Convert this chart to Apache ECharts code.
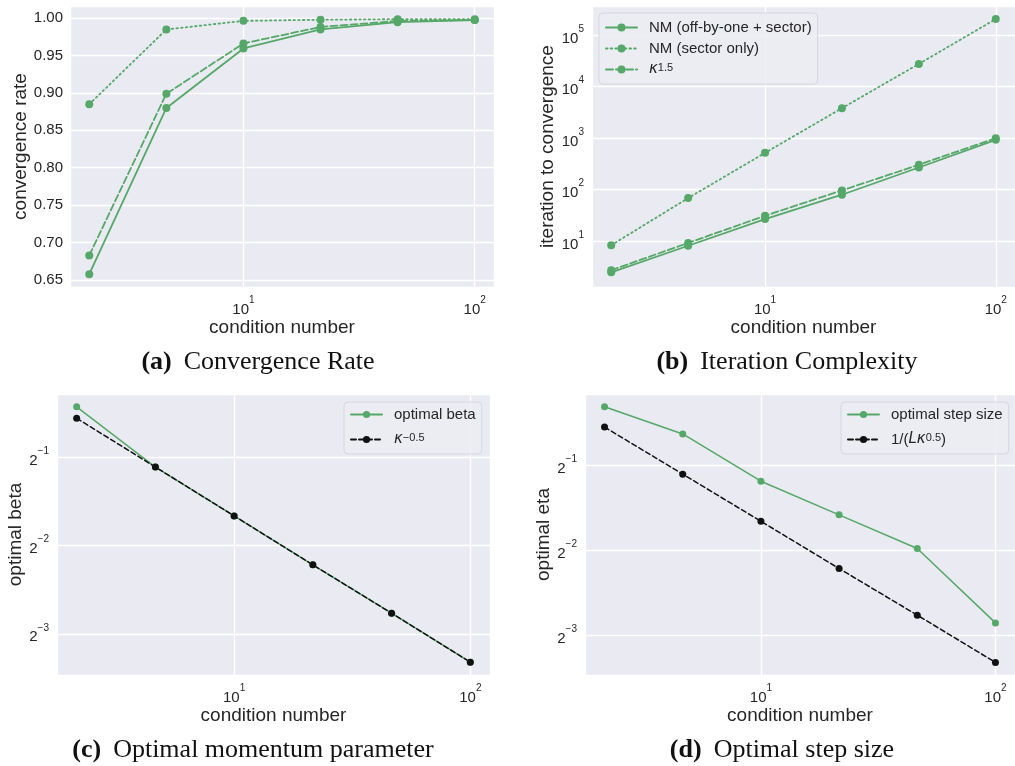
<!DOCTYPE html>
<html><head><meta charset="utf-8">
<script src="https://cdn.jsdelivr.net/npm/echarts@6/dist/echarts.min.js"></script>
<style>html,body{margin:0;padding:0;background:#fff}#c{width:1015px;height:766px}</style>
</head><body><div id="c"></div>
<script>
// ---- data ----
const kappa = [2.154, 4.642, 10, 21.54, 46.42, 100];
// (a) convergence rate
const rateOffByOne   = [0.6575, 0.880, 0.9596, 0.985, 0.9947, 0.9975];
const rateSectorOnly = [0.885, 0.985, 0.9965, 0.998, 0.9988, 0.9988];
const rateKappa      = [0.6827, 0.899, 0.9663, 0.9884, 0.9964, 0.9977];
// (b) iterations to convergence
const iterOffByOne   = [2.5, 8.2, 27, 80, 270, 927];
const iterSectorOnly = [8.4, 69, 519, 3810, 27500, 204000];
const iterKappa      = [2.75, 9.3, 31.3, 97, 305, 1000];
// (c) optimal momentum
const betaOpt = [0.745, 0.464, 0.316, 0.215, 0.147, 0.1];
const betaRef = [0.681, 0.464, 0.316, 0.215, 0.147, 0.1];
// (d) optimal step size
const etaOpt = [0.804, 0.644, 0.438, 0.333, 0.253, 0.138];
const etaRef = [0.681, 0.464, 0.316, 0.215, 0.147, 0.1];
// labels
const legendB = ['NM (off-by-one + sector)', 'NM (sector only)', 'κ^1.5'];
const legendC = ['optimal beta', 'κ^-0.5'];
const legendD = ['optimal step size', '1/(Lκ^0.5)'];
const captions = [['(a)', 'Convergence Rate'], ['(b)', 'Iteration Complexity'], ['(c)', 'Optimal momentum parameter'], ['(d)', 'Optimal step size']];
const xName = 'condition number';
const yNames = ['convergence rate', 'iteration to convergence', 'optimal beta', 'optimal eta'];

// ---- style ----
const GREEN = '#55a868', BLACK = '#111111', TXT = '#262626', BG = '#eaeaf2';
const SANS = 'Liberation Sans, Arial, sans-serif';
const pairs = a => kappa.map((k, i) => [k, a[i]]);
const supRich = {
  b: {fontSize: 15, fontFamily: SANS, color: TXT, verticalAlign: 'bottom', lineHeight: 22},
  s: {fontSize: 10, fontFamily: SANS, color: TXT, verticalAlign: 'top', lineHeight: 10}
};
const pow10Fmt = v => '{b|10}{s|' + Math.round(Math.log10(v)) + '}';
const pow2Fmt = v => '{b|2}{s|' + String(Math.round(Math.log2(v))).replace('-', '\u2212') + '}';

const grids = [
  {left: 70, top: 6, width: 424, height: 281},
  {left: 592, top: 6, width: 431, height: 281},
  {left: 57, top: 394, width: 433, height: 281},
  {left: 585, top: 394, width: 433, height: 281}
].map(g => Object.assign(g, {show: true, backgroundColor: BG, borderWidth: 0}));

const splitLine = {show: true, lineStyle: {color: '#ffffff', width: 1.4}};
const xAxes = grids.map((g, i) => ({
  type: 'log', gridIndex: i, min: Math.pow(10, 0.25), max: Math.pow(10, 2 + 1 / 12),
  axisLine: {show: false}, axisTick: {show: false}, splitLine,
  axisLabel: {formatter: pow10Fmt, rich: supRich, margin: 8, showMinLabel: false, showMaxLabel: false},
  name: xName, nameLocation: 'middle', nameGap: 29,
  nameTextStyle: {fontSize: 19, fontFamily: SANS, color: TXT}
}));
const yBase = (i, extra) => Object.assign({
  gridIndex: i, axisLine: {show: false}, axisTick: {show: false}, splitLine,
  name: yNames[i], nameLocation: 'middle',
  nameTextStyle: {fontSize: 19, fontFamily: SANS, color: TXT}
}, extra);
const yAxes = [
  yBase(0, {type: 'value', min: 0.6404, max: 1.0164, splitNumber: 7, nameGap: 40,
    axisLabel: {formatter: v => v.toFixed(2), fontSize: 15, fontFamily: SANS, color: TXT, margin: 7, showMinLabel: false, showMaxLabel: false}}),
  yBase(1, {type: 'log', min: 1.3, max: 3.65e5, nameGap: 35,
    axisLabel: {formatter: pow10Fmt, rich: supRich, margin: 8, showMinLabel: false, showMaxLabel: false}}),
  yBase(2, {type: 'log', logBase: 2, min: Math.pow(2, -3.467), max: Math.pow(2, -0.279), nameGap: 32,
    axisLabel: {formatter: pow2Fmt, rich: supRich, margin: 8, showMinLabel: false, showMaxLabel: false}}),
  yBase(3, {type: 'log', logBase: 2, min: Math.pow(2, -3.47), max: Math.pow(2, -0.165), nameGap: 32,
    axisLabel: {formatter: pow2Fmt, rich: supRich, margin: 8, showMinLabel: false, showMaxLabel: false}})
];

const SOLID = 'solid', DASH = [7, 3], DOT = [1.5, 3.2], KDASH = [5, 3];
function line(name, idx, data, color, type, width, size) {
  return {
    name, type: 'line', xAxisIndex: idx, yAxisIndex: idx, data: pairs(data),
    symbol: 'circle', symbolSize: size, showSymbol: true,
    itemStyle: {color},
    lineStyle: {color, width, type, cap: 'round'},
    emphasis: {disabled: true}, silent: true, z: 3
  };
}
const series = [
  line('a1', 0, rateOffByOne, GREEN, SOLID, 1.8, 8),
  line('a2', 0, rateSectorOnly, GREEN, DOT, 1.8, 8),
  line('a3', 0, rateKappa, GREEN, DASH, 1.8, 8),
  line(legendB[0], 1, iterOffByOne, GREEN, SOLID, 1.8, 8),
  line(legendB[1], 1, iterSectorOnly, GREEN, DOT, 1.8, 8),
  line(legendB[2], 1, iterKappa, GREEN, DASH, 1.8, 8),
  line(legendC[0], 2, betaOpt, GREEN, SOLID, 1.5, 7),
  line(legendC[1], 2, betaRef, BLACK, KDASH, 1.5, 7),
  line(legendD[0], 3, etaOpt, GREEN, SOLID, 1.5, 7),
  line(legendD[1], 3, etaRef, BLACK, KDASH, 1.5, 7)
];

const legRich = {
  t: {fontSize: 15, fontFamily: SANS, color: TXT},
  k: {fontSize: 15, fontFamily: 'DejaVu Sans', fontStyle: 'italic', color: TXT},
  s: {fontSize: 11, fontFamily: SANS, color: TXT, verticalAlign: 'top', lineHeight: 11}
};
function legFmt(name) {
  if (name === 'κ^1.5') return '{k|κ}{s|1.5}';
  if (name === 'κ^-0.5') return '{k|κ}{s|\u22120.5}';
  if (name === '1/(Lκ^0.5)') return '{t|1/(}{k|Lκ}{s|0.5}{t|)}';
  return '{t|' + name + '}';
}
function legend(data, left, top, itemGap, itemH, pad) {
  return {
    data, left, top, orient: 'vertical', itemWidth: 31, itemHeight: itemH, itemGap,
    formatter: legFmt, textStyle: {rich: legRich, fontSize: 15, padding: [0, 0, 0, 7]},
    backgroundColor: 'rgba(236,236,243,0.9)', borderColor: '#d6d6de', borderWidth: 1, borderRadius: 4,
    padding: pad, selectedMode: false
  };
}

const capPos = [[258, 362], [787, 362], [253, 750], [782, 750]];
const capFont = 'Liberation Serif, serif';
const graphic = captions.map((c, i) => ({
  type: 'text', x: capPos[i][0], y: capPos[i][1],
  style: {
    text: '{b|' + c[0] + '}{r|' + c[1] + '}', align: 'center', verticalAlign: 'middle',
    rich: {
      b: {fontSize: 26, fontFamily: capFont, fontWeight: 'bold', fill: '#111', color: '#111', padding: [0, 12, 0, 0]},
      r: {fontSize: 26, fontFamily: capFont, fill: '#111', color: '#111'}
    }
  }
}));

const chart = echarts.init(document.getElementById('c'), null, {renderer: 'canvas'});
chart.setOption({
  animation: false, backgroundColor: '#ffffff',
  grid: grids, xAxis: xAxes, yAxis: yAxes, series,
  legend: [
    legend(legendB, 599, 13, 6, 10, [7, 6, 7, 6]),
    legend(legendC, 344, 402, 10, 9, [5, 6, 7, 6]),
    legend(legendD, 841, 402, 10, 9, [5, 6, 7, 6])
  ],
  graphic
});
</script></body></html>
